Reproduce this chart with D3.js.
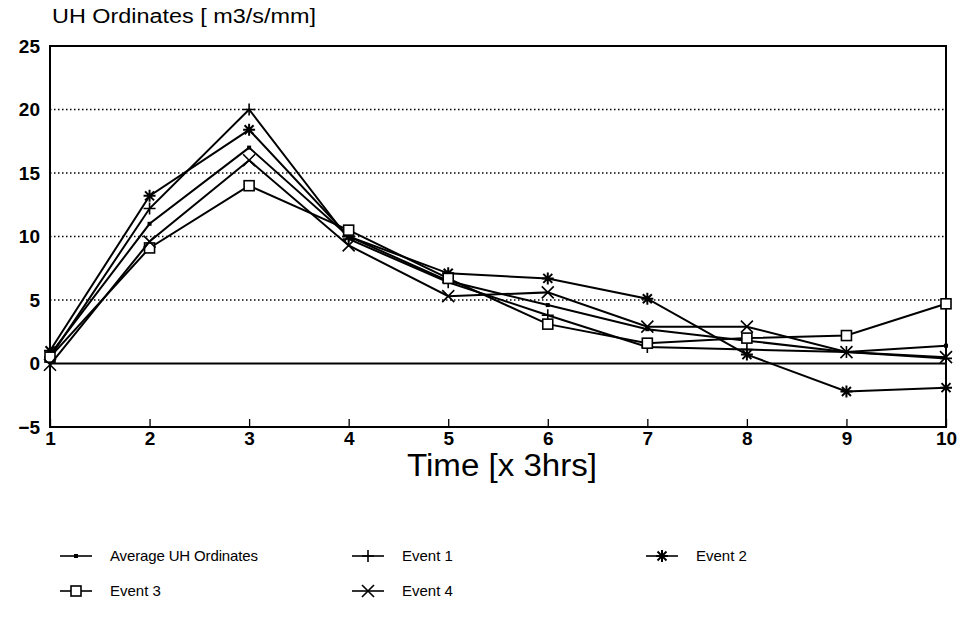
<!DOCTYPE html>
<html>
<head>
<meta charset="utf-8">
<script src="https://cdn.jsdelivr.net/npm/d3@7"></script>
<style>
  body { margin: 0; background: #fff; }
  svg text { font-family: "Liberation Sans", Arial, sans-serif; fill: #000; }
</style>
</head>
<body>
<div id="chart"></div>
<script>
// data
const steps = [1, 2, 3, 4, 5, 6, 7, 8, 9, 10];
const yTicks = [-5, 0, 5, 10, 15, 20, 25];
const average = [0.7, 11.0, 17.0, 10.0, 6.5, 4.6, 2.7, 1.8, 0.9, 1.4];
const event1 = [0.5, 12.2, 20.0, 9.8, 6.4, 3.8, 1.3, 1.1, 0.9, 0.4];
const event2 = [1.0, 13.2, 18.4, 10.0, 7.1, 6.7, 5.1, 0.7, -2.2, -1.9];
const event3 = [0.5, 9.1, 14.0, 10.5, 6.7, 3.1, 1.6, 2.0, 2.2, 4.7];
const event4 = [-0.1, 9.6, 16.0, 9.3, 5.3, 5.6, 2.9, 2.9, 0.9, 0.5];
const seriesNames = ["Average UH Ordinates", "Event 1", "Event 2", "Event 3", "Event 4"];
const seriesMarks = ["dot", "plus", "star", "square", "cross"];

function chart(){
  // dimensions & margins
  const margin = {top: 46, right: 18, bottom: 195, left: 50},
  width = 964 - margin.left - margin.right,
  height = 622 - margin.top - margin.bottom;

  const svg = d3.select("#chart").append("svg").attr("width", 964).attr("height", 622);
  const g = svg.append("g").attr("transform", `translate(${margin.left},${margin.top})`);

  const x = d3.scaleLinear().domain([1, 10]).range([0, width]);
  const y = d3.scaleLinear().domain([-5, 25]).range([height, 0]);

  // dotted grid
  g.selectAll(".grid").data([5, 10, 15, 20]).join("line")
   .attr("x1", 0).attr("x2", width).attr("y1", d => y(d)).attr("y2", d => y(d))
   .attr("stroke", "#000").attr("stroke-width", 1.3).attr("stroke-dasharray", "1.5,2.5");

  // zero line
  g.append("line").attr("x1", 0).attr("x2", width).attr("y1", y(0)).attr("y2", y(0))
   .attr("stroke", "#000").attr("stroke-width", 2);

  // frame
  g.append("rect").attr("width", width).attr("height", height)
   .attr("fill", "none").attr("stroke", "#000").attr("stroke-width", 2);

  // x axis: inward ticks
  const xAxis = g.append("g").attr("transform", `translate(0,${height})`)
    .call(d3.axisBottom(x).tickValues(steps).tickFormat(d3.format("d")).tickSizeInner(-8).tickSizeOuter(0).tickPadding(16));
  xAxis.select(".domain").remove();
  xAxis.selectAll("line").attr("stroke-width", 1.3);
  xAxis.selectAll("text").style("font-size", "19px").style("font-weight", "bold").attr("dy", "0.1em");

  // y axis
  const yAxis = g.append("g")
    .call(d3.axisLeft(y).tickValues(yTicks).tickSize(0).tickPadding(10));
  yAxis.select(".domain").remove();
  yAxis.selectAll("text").style("font-size", "19px").style("font-weight", "bold");

  // titles
  svg.append("text").attr("x", 52).attr("y", 23).style("font-size", "20px")
     .attr("textLength", 264).attr("lengthAdjust", "spacingAndGlyphs").text("UH Ordinates [ m3/s/mm]");
  svg.append("text").attr("x", 502).attr("y", 476).attr("text-anchor", "middle")
     .style("font-size", "31px").attr("textLength", 190).attr("lengthAdjust", "spacingAndGlyphs")
     .text("Time [x 3hrs]");

  // markers
  function marker(sel, type){
    const s = 6;
    if (type === "dot") {
      sel.append("rect").attr("x", -2).attr("y", -2).attr("width", 4).attr("height", 4).attr("fill", "#000");
    } else if (type === "plus") {
      sel.append("path").attr("d", `M${-s},0H${s}M0,${-s}V${s}`).attr("stroke", "#000").attr("stroke-width", 1.6);
    } else if (type === "star") {
      sel.append("path").attr("d", `M${-s},0H${s}M0,${-s}V${s}M${-s*0.75},${-s*0.75}L${s*0.75},${s*0.75}M${-s*0.75},${s*0.75}L${s*0.75},${-s*0.75}`)
         .attr("stroke", "#000").attr("stroke-width", 2);
    } else if (type === "square") {
      sel.append("rect").attr("x", -5).attr("y", -5).attr("width", 10).attr("height", 10)
         .attr("fill", "#fff").attr("stroke", "#000").attr("stroke-width", 1.6);
    } else if (type === "cross") {
      sel.append("path").attr("d", `M${-s},${-s}L${s},${s}M${-s},${s}L${s},${-s}`).attr("stroke", "#000").attr("stroke-width", 1.6);
    }
  }

  const allSeries = [average, event1, event2, event3, event4];
  const line = d3.line().x((d, i) => x(steps[i])).y(d => y(d));

  allSeries.forEach(function(vals, k){
    g.append("path").datum(vals).attr("d", line)
     .attr("fill", "none").attr("stroke", "#000").attr("stroke-width", 2);
    g.selectAll(".m" + k).data(vals).join("g").attr("class", "m" + k)
     .attr("transform", (d, i) => `translate(${x(steps[i])},${y(d)})`)
     .each(function(){ marker(d3.select(this), seriesMarks[k]); });
  });

  // legend
  const legendPos = [[60, 556], [352, 556], [646, 556], [60, 591], [352, 591]];
  const leg = svg.selectAll(".leg").data(seriesNames).join("g").attr("class", "leg")
    .attr("transform", (d, i) => `translate(${legendPos[i][0]},${legendPos[i][1]})`);
  leg.append("line").attr("x1", 0).attr("x2", 32).attr("stroke", "#000").attr("stroke-width", 1.6);
  leg.append("g").attr("transform", "translate(16,0)").each(function(d, i){ marker(d3.select(this), seriesMarks[i]); });
  leg.append("text").attr("x", 50).attr("dy", "0.35em").style("font-size", "15px")
     .attr("textLength", (d, i) => i === 0 ? 148 : null).text(d => d);
}

chart();
</script>
</body>
</html>
